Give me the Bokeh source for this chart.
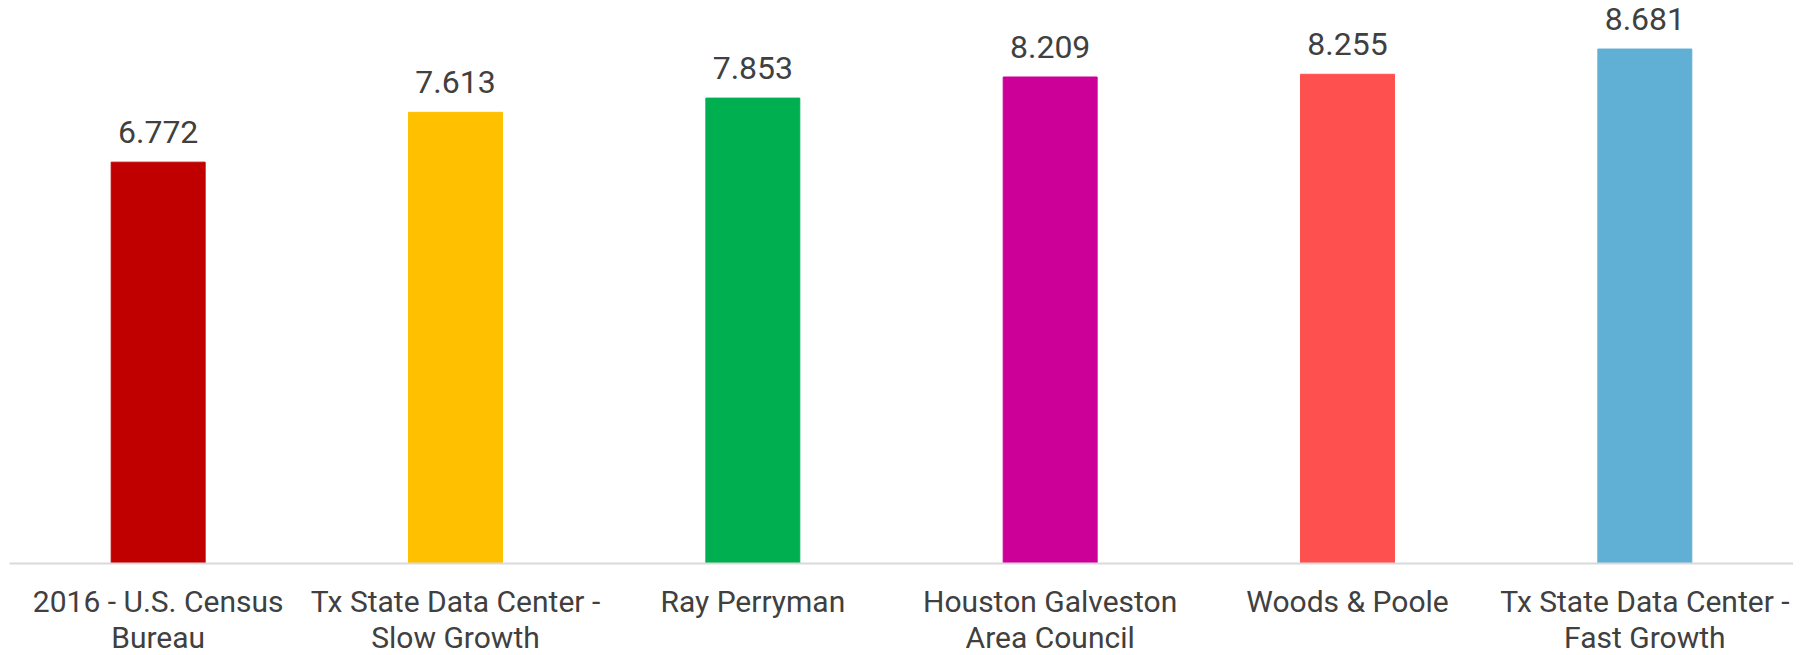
from bokeh.plotting import figure
from bokeh.models import ColumnDataSource, LabelSet, FactorRange
from bokeh.core.properties import value
from bokeh.embed import file_html
from bokeh.resources import INLINE

categories = [
    "2016 - U.S. Census\nBureau",
    "Tx State Data Center -\nSlow Growth",
    "Ray Perryman",
    "Houston Galveston\nArea Council",
    "Woods & Poole",
    "Tx State Data Center -\nFast Growth",
]
values = [6.772, 7.613, 7.853, 8.209, 8.255, 8.681]
value_labels = ["6.772", "7.613", "7.853", "8.209", "8.255", "8.681"]
colors = ["#C00000", "#FFC000", "#00B050", "#CC0099", "#FF5050", "#60B0D6"]

src = ColumnDataSource(dict(cat=categories, val=values, lab=value_labels, col=colors))

p = figure(x_range=FactorRange(*categories, range_padding=0), y_range=(0, 9.5),
           frame_width=1784, frame_height=563, output_backend="svg", toolbar_location=None,
           min_border_left=9, min_border_right=0, min_border_top=0, min_border_bottom=0)
p.vbar(x="cat", top="val", width=0.316, color="col", source=src)

labels = LabelSet(x="cat", y="val", text="lab", source=src, text_align="center",
                  text_baseline="bottom", y_offset=19, text_font=value("Roboto"),
                  text_font_size="32px", text_color="#404040")
p.add_layout(labels)

p.yaxis.visible = False
p.xgrid.visible = False
p.ygrid.visible = False
p.outline_line_color = None
p.xaxis.axis_line_color = "#D9D9D9"
p.xaxis.axis_line_width = 2
p.xaxis.major_tick_line_color = None
p.xaxis.minor_tick_line_color = None
p.xaxis.major_label_text_font = "Roboto"
p.xaxis.major_label_text_font_size = "30px"
p.xaxis.major_label_text_color = "#404040"
p.xaxis.major_label_standoff = 14
p.xaxis.major_label_text_line_height = 1.05

open("out.html", "w").write(file_html(p, INLINE))
